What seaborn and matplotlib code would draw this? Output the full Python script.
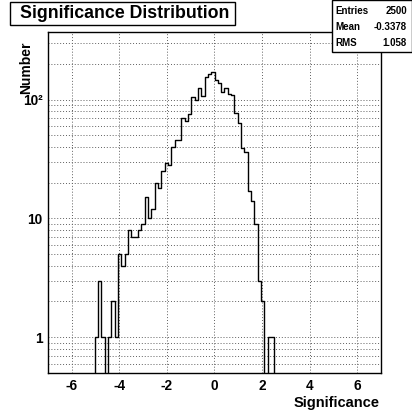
import numpy as np
import pandas as pd
import matplotlib
matplotlib.use("Agg")
import matplotlib.pyplot as plt
import seaborn as sns
from matplotlib.ticker import MultipleLocator, LogLocator, NullFormatter, FixedLocator, FixedFormatter
from matplotlib.patches import Rectangle

# ---------------- data ----------------
title = "Significance Distribution"
x_label = "Significance"
y_label = "Number"
x_min, x_max, n_bins = -7.0, 7.0, 100
counts = (
    [0] * 14
    + [1, 3, 1, 0, 1, 2, 1, 5, 4, 5,
       8, 7, 7, 8, 9, 15, 10, 12, 20, 18,
       25, 29, 28, 40, 46, 46, 70, 66, 75, 105,
       100, 126, 107, 154, 165, 172, 145, 139, 115, 126,
       112, 109, 77, 64, 39, 36, 17, 14, 9, 3,
       2, 0, 1, 1]
    + [0] * 32
)
stats_names = ["Entries", "Mean", "RMS"]
stats_values = ["2500", "-0.3378", "1.058"]
y_tick_values = [1, 10, 100]
y_tick_labels = ["1", "10", "10\u00b2"]

# ---------------- figure ----------------
sns.set_theme(style="white")
plt.rcParams["font.family"] = ["Liberation Sans", "DejaVu Sans"]
plt.rcParams["font.weight"] = "bold"
plt.rcParams["axes.unicode_minus"] = False

W = H = 412
fig = plt.figure(figsize=(W / 100, H / 100), dpi=100)
fig.patch.set_facecolor("white")

def fx(px):
    return px / W

def fy(py):
    return 1 - py / H

L, R, T, B = 48, 381, 32, 373
ax = fig.add_axes([fx(L), fy(B), (R - L) / W, (B - T) / H])
ax.set_facecolor("white")

edges = np.linspace(x_min, x_max, n_bins + 1)
centers = 0.5 * (edges[:-1] + edges[1:])
df = pd.DataFrame({"significance": centers, "entries": counts})

sns.histplot(data=df, x="significance", weights="entries", bins=n_bins,
             binrange=(x_min, x_max), element="step", fill=False,
             color="black", linewidth=1.0, ax=ax)

ax.set_yscale("log")
ax.set_xlim(x_min, x_max)
ax.set_ylim(0.5, 370)

# ticks
ax.xaxis.set_major_locator(MultipleLocator(2))
ax.xaxis.set_minor_locator(MultipleLocator(0.5))
ax.yaxis.set_major_locator(FixedLocator(y_tick_values))
ax.yaxis.set_major_formatter(FixedFormatter(y_tick_labels))
ax.yaxis.set_minor_locator(LogLocator(base=10, subs=np.arange(2, 10), numticks=20))
ax.yaxis.set_minor_formatter(NullFormatter())

ax.tick_params(axis="both", which="both", direction="in", top=False, right=False,
               colors="black", labelsize=9.8, width=0.9)
ax.tick_params(axis="both", which="major", length=7, pad=4)
ax.tick_params(axis="both", which="minor", length=3.5)
for lab in ax.get_xticklabels() + ax.get_yticklabels():
    lab.set_fontweight("bold")

# grid
grid_kw = dict(color="#606060", linestyle=(0, (1, 2)), linewidth=0.7)
ax.grid(True, which="major", axis="x", **grid_kw)
ax.grid(True, which="both", axis="y", **grid_kw)
ax.set_axisbelow(True)

for s in ax.spines.values():
    s.set_color("black")
    s.set_linewidth(1.0)
    s.set_visible(True)

ax.set_xlabel("")
ax.set_ylabel("")
fig.text(fx(380), fy(403), x_label, ha="right", va="center",
         fontsize=10.5, fontweight="bold", color="black")
fig.text(fx(26), fy(67.5), y_label, ha="center", va="center", rotation=90,
         fontsize=10, fontweight="bold", color="black")

# title box
fig.patches.append(Rectangle((fx(10), fy(25)), fx(225), 23 / H, transform=fig.transFigure,
                             facecolor="white", edgecolor="black", linewidth=1.0, zorder=5))
fig.text(fx(124.5), fy(13.5), title, ha="center", va="center",
         fontsize=12.8, fontweight="bold", color="black", zorder=6)

# stats box
fig.patches.append(Rectangle((fx(332), fy(52)), fx(79.5), 52 / H, transform=fig.transFigure,
                             facecolor="white", edgecolor="black", linewidth=1.0, zorder=5))
row_y = [11.5, 27.5, 43]
for name, val, yy in zip(stats_names, stats_values, row_y):
    fig.text(fx(335), fy(yy), name, ha="left", va="center", fontsize=7,
             fontweight="bold", color="black", zorder=6)
    fig.text(fx(407), fy(yy), val, ha="right", va="center", fontsize=7,
             fontweight="bold", color="black", zorder=6)

fig.savefig("out.png", dpi=100, facecolor="white")
